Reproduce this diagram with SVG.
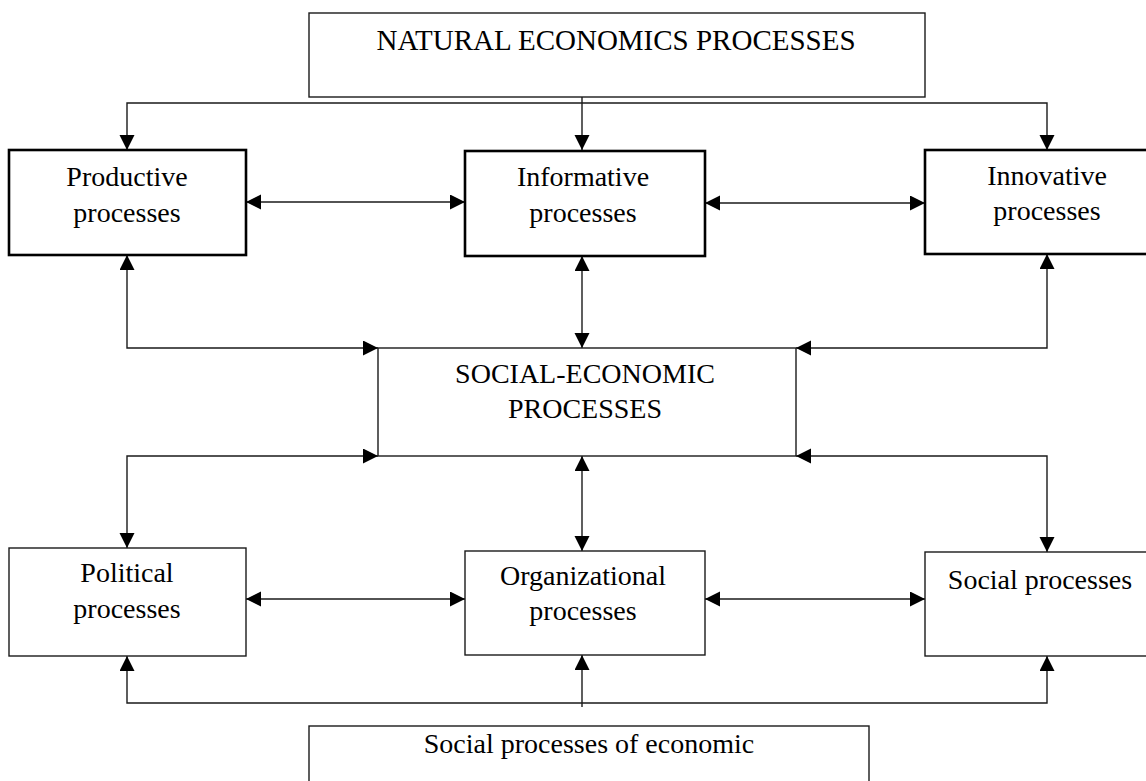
<svg xmlns="http://www.w3.org/2000/svg" width="1146" height="781" viewBox="0 0 1146 781">
  <defs>
    <style>
      .box { fill: #ffffff; stroke: #1a1a1a; stroke-width: 1.4; }
      .thick { fill: #ffffff; stroke: #000000; stroke-width: 2.6; }
      .lbl { font-family: "Liberation Serif", "Times New Roman", serif; font-size: 28px; fill: #000000; text-anchor: middle; }
      .conn { fill: none; stroke: #1a1a1a; stroke-width: 1.4; }
    </style>
    <marker id="arr" markerUnits="userSpaceOnUse" markerWidth="16" markerHeight="16" viewBox="0 0 16 16" refX="15" refY="7.5" orient="auto-start-reverse">
      <path d="M0,0 L15,7.5 L0,15 Z" fill="#000000"/>
    </marker>
  </defs>
  <rect width="1146" height="781" fill="#ffffff"/>

  <g id="connectors">
    <path class="conn" d="M582,97 V150" marker-end="url(#arr)"/>
    <path class="conn" d="M127,150 V103 H1047 V150" marker-start="url(#arr)" marker-end="url(#arr)"/>
    <path class="conn" d="M246,202 H465" marker-start="url(#arr)" marker-end="url(#arr)"/>
    <path class="conn" d="M705,203 H925" marker-start="url(#arr)" marker-end="url(#arr)"/>
    <path class="conn" d="M127,255 V348 H378" marker-start="url(#arr)" marker-end="url(#arr)"/>
    <path class="conn" d="M582,256 V348" marker-start="url(#arr)" marker-end="url(#arr)"/>
    <path class="conn" d="M1047,254 V348 H796" marker-start="url(#arr)" marker-end="url(#arr)"/>
    <path class="conn" d="M378,456 H127 V548" marker-start="url(#arr)" marker-end="url(#arr)"/>
    <path class="conn" d="M582,456 V551" marker-start="url(#arr)" marker-end="url(#arr)"/>
    <path class="conn" d="M796,456 H1047 V552" marker-start="url(#arr)" marker-end="url(#arr)"/>
    <path class="conn" d="M246,599 H465" marker-start="url(#arr)" marker-end="url(#arr)"/>
    <path class="conn" d="M705,599 H925" marker-start="url(#arr)" marker-end="url(#arr)"/>
    <path class="conn" d="M127,656 V703 H1047 V656" marker-start="url(#arr)" marker-end="url(#arr)"/>
    <path class="conn" d="M582,707 V655" marker-end="url(#arr)"/>
  </g>

  <g id="natural">
    <rect class="box" x="309" y="13" width="616" height="84"/>
    <text class="lbl" x="616" y="50" style="font-size:29px">NATURAL ECONOMICS PROCESSES</text>
  </g>

  <g id="productive">
    <rect class="thick" x="9" y="150" width="237" height="105"/>
    <text class="lbl" x="127" y="186">Productive</text>
    <text class="lbl" x="127" y="222">processes</text>
  </g>

  <g id="informative">
    <rect class="thick" x="465" y="151" width="240" height="105"/>
    <text class="lbl" x="583" y="186">Informative</text>
    <text class="lbl" x="583" y="222">processes</text>
  </g>

  <g id="innovative">
    <rect class="thick" x="925" y="150" width="245" height="104"/>
    <text class="lbl" x="1047" y="185">Innovative</text>
    <text class="lbl" x="1047" y="220">processes</text>
  </g>

  <g id="socialeconomic">
    <rect class="box" x="378" y="348" width="418" height="108"/>
    <text class="lbl" x="585" y="383">SOCIAL-ECONOMIC</text>
    <text class="lbl" x="585" y="418">PROCESSES</text>
  </g>

  <g id="political">
    <rect class="box" x="9" y="548" width="237" height="108"/>
    <text class="lbl" x="127" y="582">Political</text>
    <text class="lbl" x="127" y="618">processes</text>
  </g>

  <g id="organizational">
    <rect class="box" x="465" y="551" width="240" height="104"/>
    <text class="lbl" x="583" y="585">Organizational</text>
    <text class="lbl" x="583" y="620">processes</text>
  </g>

  <g id="social">
    <rect class="box" x="925" y="552" width="245" height="104"/>
    <text class="lbl" x="1040" y="589">Social processes</text>
  </g>

  <g id="socialeconomicbottom">
    <rect class="box" x="309" y="726" width="560" height="80"/>
    <text class="lbl" x="589" y="753">Social processes of economic</text>
  </g>
</svg>
